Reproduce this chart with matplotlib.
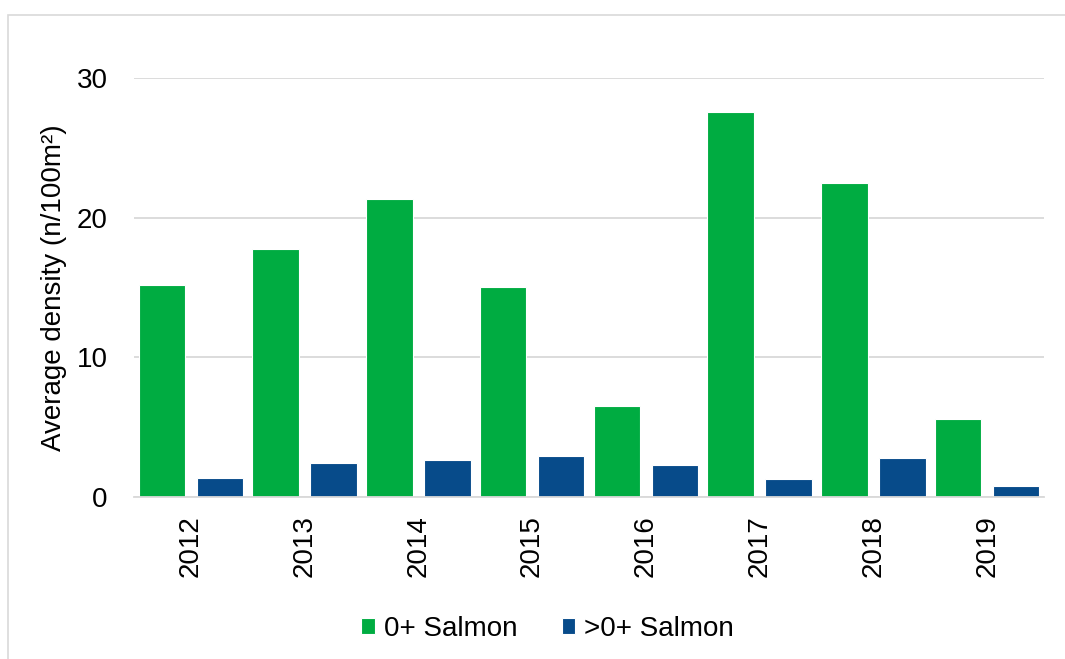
import numpy as np
import matplotlib
matplotlib.use("Agg")
import matplotlib.pyplot as plt
from matplotlib.patches import Rectangle

# Average salmon density per survey year
years = ["2012", "2013", "2014", "2015", "2016", "2017", "2018", "2019"]
fry_0plus = [15.2, 17.75, 21.35, 15.05, 6.5, 27.6, 22.5, 5.6]
parr_gt0plus = [1.35, 2.45, 2.65, 2.95, 2.3, 1.3, 2.8, 0.8]

GREEN = "#00ac41"
BLUE = "#074b8a"
GRID = "#d9d9d9"

plt.rcParams['font.family'] = ['Liberation Sans', 'DejaVu Sans']

fig = plt.figure(figsize=(10.65, 6.59), dpi=100)
ax = fig.add_axes([0.1258, 0.2458, 0.8545, 0.6358])

# light frame around the chart area
fig.patches.append(Rectangle((8 / 1065, -0.05), 1.1, 1 - 15 / 659 + 0.05,
                             transform=fig.transFigure, fill=False,
                             edgecolor=GRID, linewidth=1.2))

x = np.arange(len(years))
w = 0.41
ax.bar(x - 0.255, fry_0plus, w, color=GREEN, edgecolor="white",
       linewidth=0.8, label="0+ Salmon", zorder=3)
ax.bar(x + 0.255, parr_gt0plus, w, color=BLUE, edgecolor="white",
       linewidth=0.8, label=">0+ Salmon", zorder=3)

ax.set_xlim(-0.5, len(years) - 0.5)
ax.set_ylim(0, 30)
ax.set_yticks([0, 10, 20, 30])
ax.set_xticks(x)
ax.set_xticklabels(years, rotation=90, fontsize=20)
ax.tick_params(axis="y", labelsize=20, length=0, pad=19)
ax.tick_params(axis="x", length=0, pad=13)

ax.grid(axis="y", color=GRID, linewidth=1.3, zorder=0)
for s in ["top", "right", "left"]:
    ax.spines[s].set_visible(False)
ax.spines["bottom"].set_color(GRID)
ax.spines["bottom"].set_linewidth(1.3)
ax.spines["bottom"].set_zorder(4)

ax.set_ylabel("Average density (n/100m²)", fontsize=20, labelpad=7)

fig.legend(loc="center", bbox_to_anchor=(0.514, 0.046), ncol=2, frameon=False,
           fontsize=20, handlelength=0.5, handleheight=0.5,
           handletextpad=0.3, columnspacing=1.6)

fig.savefig("out.png", dpi=100)
